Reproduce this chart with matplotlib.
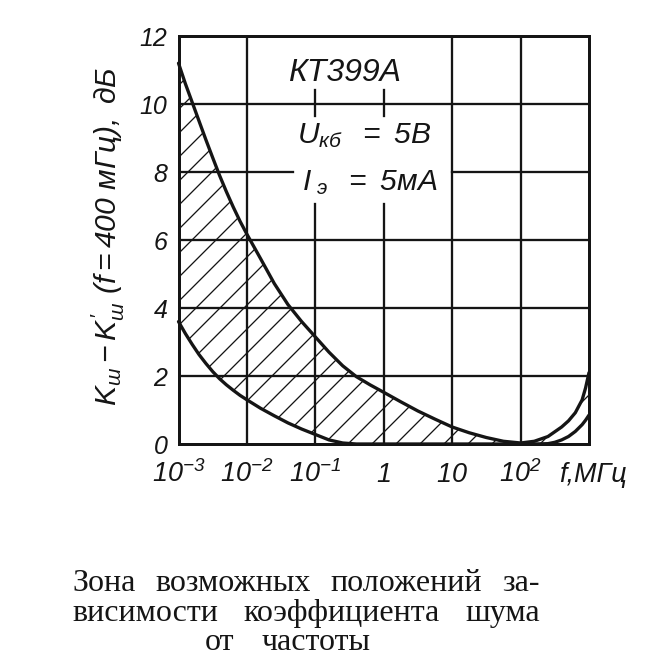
import matplotlib
matplotlib.use("Agg")
import matplotlib.pyplot as plt
from matplotlib.ticker import NullLocator
import numpy as np

# ---------------- data ----------------
log_f_MHz = [-3.0, -2.9, -2.8, -2.7, -2.6, -2.5, -2.4, -2.3, -2.2, -2.1, -2.0,
             -1.8, -1.6, -1.4, -1.2, -1.0, -0.8, -0.6, -0.4, -0.2, 0.0,
             0.25, 0.5, 0.75, 1.0, 1.25, 1.5, 1.75, 2.0, 2.2, 2.4, 2.5,
             2.6, 2.7, 2.8, 2.9, 2.95, 3.0]
upper_dB = [11.2, 10.6, 10.05, 9.5, 8.95, 8.42, 7.9, 7.42, 6.97, 6.55, 6.17,
            5.45, 4.72, 4.1, 3.6, 3.15, 2.7, 2.3, 1.98, 1.74, 1.52,
            1.24, 0.97, 0.73, 0.5, 0.33, 0.19, 0.08, 0.03, 0.08, 0.22, 0.36,
            0.5, 0.68, 0.92, 1.3, 1.65, 2.1]
lower_dB = [3.6, 3.25, 2.93, 2.63, 2.37, 2.13, 1.92, 1.74, 1.58, 1.43, 1.3,
            1.05, 0.83, 0.62, 0.44, 0.28, 0.12, 0.03, 0.0, 0.0, 0.0,
            0.0, 0.0, 0.0, 0.0, 0.0, 0.0, 0.0, 0.0, 0.0, 0.01, 0.05,
            0.12, 0.22, 0.37, 0.57, 0.7, 0.85]

x_ticks = [1e-3, 1e-2, 1e-1, 1, 10, 1e2]
x_tick_labels = [r"$10^{-3}$", r"$10^{-2}$", r"$10^{-1}$", r"$1$", r"$10$", r"$10^{2}$"]
y_ticks = [0, 2, 4, 6, 8, 10, 12]
y_tick_labels = ["0", "2", "4", "6", "8", "10", "12"]
x_label = "f,МГц"
y_label = r"$K_{ш}-K_{ш}^{\prime}\ (f=400\ мГц),\ дБ$"
device = "КТ399А"
cond_u = r"$U_{кб}\ \ =\ 5В$"
cond_i = r"$I_{\ э}\ \ =\ 5мА$"
caption_lines = [["Зона", "возможных", "положений", "за-"],
                 ["висимости", "коэффициента", "шума"],
                 ["от", "частоты"]]

# ---------------- style ----------------
INK = "#151515"
plt.rcParams["font.family"] = ["Liberation Sans", "DejaVu Sans"]
plt.rcParams["mathtext.fontset"] = "custom"
plt.rcParams["mathtext.it"] = "Liberation Sans:italic"
plt.rcParams["mathtext.rm"] = "Liberation Sans:italic"
plt.rcParams["mathtext.default"] = "it"
plt.rcParams["hatch.linewidth"] = 1.3

DPI = 72
fig = plt.figure(figsize=(648 / DPI, 670 / DPI), dpi=DPI)
fig.patch.set_facecolor("white")
ax = fig.add_axes([178.5 / 648, 1 - 444 / 670, 410.5 / 648, 408 / 670])
ax.set_xscale("log")
ax.set_xlim(1e-3, 1e3)
ax.set_ylim(0, 12)

# grid (two vertical lines and one horizontal are interrupted by the labels)
grid_lw = 2.3
vert_grid = {1e-2: [(0, 12)], 1e-1: [(0, 7.05), (9.65, 10.4)],
             1: [(0, 7.05), (9.65, 10.4)], 10: [(0, 12)], 1e2: [(0, 12)]}
for xv, segs in vert_grid.items():
    for y0, y1 in segs:
        ax.plot([xv, xv], [y0, y1], color=INK, lw=grid_lw, zorder=1)
horiz_grid = {2: [(1e-3, 1e3)], 4: [(1e-3, 1e3)], 6: [(1e-3, 1e3)],
              8: [(1e-3, 10 ** -1.33), (10, 1e3)], 10: [(1e-3, 1e3)]}
for yv, segs in horiz_grid.items():
    for x0, x1 in segs:
        ax.plot([x0, x1], [yv, yv], color=INK, lw=grid_lw, zorder=1)

f = 10 ** np.array(log_f_MHz)
up = np.array(upper_dB)
lo = np.array(lower_dB)

# hatched zone
ax.fill(np.concatenate([f, f[::-1]]), np.concatenate([up, lo[::-1]]),
        fill=False, hatch="/", edgecolor=INK, linewidth=0, zorder=2)
ax.plot(f, up, color=INK, lw=3.3, zorder=4, clip_on=False, solid_capstyle="round")
ax.plot(f, lo, color=INK, lw=3.3, zorder=4, clip_on=False, solid_capstyle="round")

for s in ax.spines.values():
    s.set_linewidth(3)
    s.set_color(INK)
    s.set_zorder(5)

ax.set_xticks(x_ticks)
ax.set_xticklabels(x_tick_labels)
ax.xaxis.set_minor_locator(NullLocator())
ax.set_yticks(y_ticks)
ax.set_yticklabels(y_tick_labels)
ax.tick_params(length=0, colors=INK)
ax.tick_params(axis="x", pad=38, labelsize=27)
ax.tick_params(axis="y", pad=11, labelsize=25)
for lab in ax.get_xticklabels():
    lab.set_va("baseline")
for lab in ax.get_yticklabels():
    lab.set_fontstyle("italic")

ax.text(1.0097, -0.093, x_label, transform=ax.transAxes, ha="center", va="baseline",
        fontsize=27, style="italic", color=INK, clip_on=False)

ax.set_ylabel(y_label, fontsize=30, color=INK)
ax.yaxis.set_label_coords(-0.125, 0.51)

ax.text(10 ** -0.57, 10.9, device, ha="center", va="center", fontsize=32,
        style="italic", color=INK, zorder=6)
ax.text(10 ** -1.27, 8.85, cond_u, ha="left", va="baseline", fontsize=30,
        color=INK, zorder=6)
ax.text(10 ** -1.2, 7.47, cond_i, ha="left", va="baseline", fontsize=30,
        color=INK, zorder=6)

# caption, justified lines
line_base = [591, 621, 650]
line_left = [72, 72, 205]
line_right = [540, 540, 371]
cap_kw = dict(fontsize=32, family="Liberation Serif", color=INK, va="baseline")
r = fig.canvas.get_renderer()
for words, yb, xl, xr in zip(caption_lines, line_base, line_left, line_right):
    yf = 1 - yb / 670
    widths = []
    for w in words:
        t = fig.text(0, 0, w, **cap_kw)
        widths.append(t.get_window_extent(renderer=r).width)
        t.remove()
    gap = (xr - xl - sum(widths)) / max(len(words) - 1, 1)
    x = xl
    for w, wd in zip(words, widths):
        fig.text(x / 648, yf, w, ha="left", **cap_kw)
        x += wd + gap

fig.savefig("out.png", dpi=DPI, facecolor="white")
